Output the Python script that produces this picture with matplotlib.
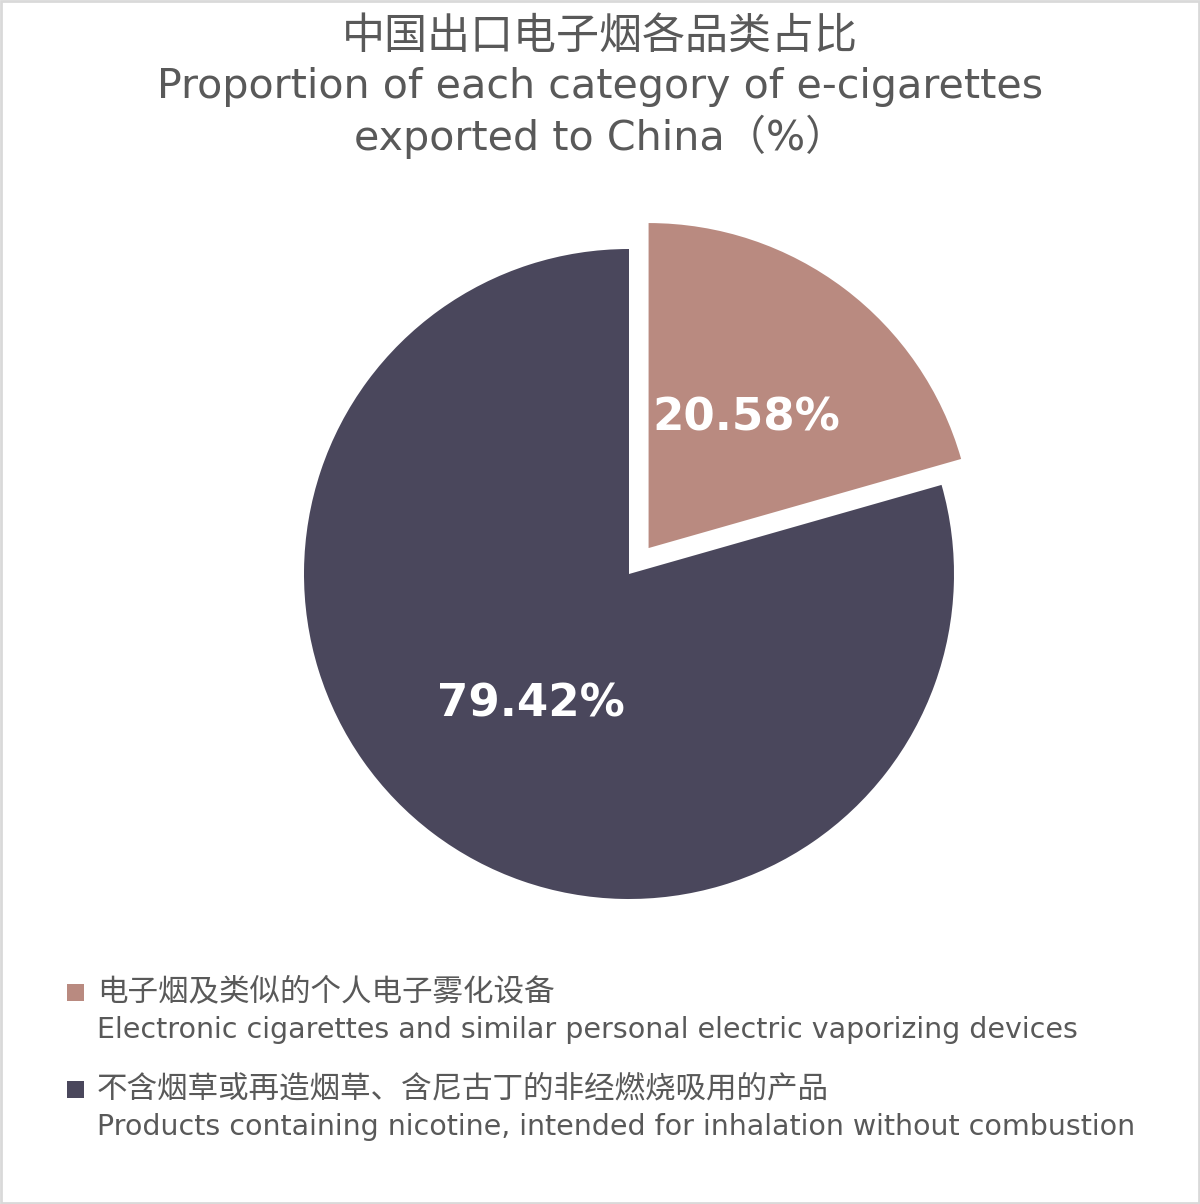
import matplotlib.pyplot as plt
from matplotlib.patches import Rectangle

plt.rcParams['font.family'] = ['DejaVu Sans', 'Noto Sans CJK SC']

# data
shares = [20.58, 79.42]
colors = ['#b98a80', '#4a475c']
labels_cn = ['电子烟及类似的个人电子雾化设备',
             '不含烟草或再造烟草、含尼古丁的非经燃烧吸用的产品']
labels_en = ['Electronic cigarettes and similar personal electric vaporizing devices',
             'Products containing nicotine, intended for inhalation without combustion']
title_lines = ['中国出口电子烟各品类占比',
               'Proportion of each category of e-cigarettes',
               'exported to China（%）']
title_sizes = [31, 29.7, 29.7]

W, H = 1200, 1204
fig = plt.figure(figsize=(W / 100, H / 100), dpi=100)
text_col = '#595959'

# pie axes: centre (629, 574) px, radius 325 px
cx, cy, r = 629, 574, 325
half = 1.25 * r
ax = fig.add_axes([(cx - half) / W, (H - cy - half) / H, 2 * half / W, 2 * half / H])
wedges, texts, autotexts = ax.pie(
    shares, colors=colors, startangle=90, counterclock=False,
    explode=[0.1, 0], autopct='%.2f%%', pctdistance=0.5,
    wedgeprops=dict(linewidth=0),
    textprops=dict(color='white', fontsize=32.5, fontweight='bold'))
ax.set_xlim(-1.25, 1.25)
ax.set_ylim(-1.25, 1.25)
ax.set_aspect('equal')
ax.axis('off')

# title
for i, line in enumerate(title_lines):
    fig.text(0.5, 1 - (37 + 50 * i) / H, line, ha='center', va='center',
             fontsize=title_sizes[i], color=text_col)

# legend
row_y = [992, 1089]
for i in range(len(shares)):
    sq = 17
    fig.patches.append(Rectangle((67 / W, 1 - (row_y[i] + sq / 2) / H), sq / W, sq / H,
                                 transform=fig.transFigure, facecolor=colors[i],
                                 edgecolor='none'))
    fig.text(97 / W, 1 - row_y[i] / H, labels_cn[i], ha='left', va='center',
             fontsize=22, color=text_col)
    fig.text(97 / W, 1 - (row_y[i] + 38) / H, labels_en[i], ha='left', va='center',
             fontsize=20.5, color=text_col)

# light frame around the picture
fig.patches.append(Rectangle((0.001, 0.001), 0.998, 0.998, transform=fig.transFigure,
                             facecolor='none', edgecolor='#d9d9d9', linewidth=2))

fig.savefig('out.png', dpi=100, facecolor='white')
